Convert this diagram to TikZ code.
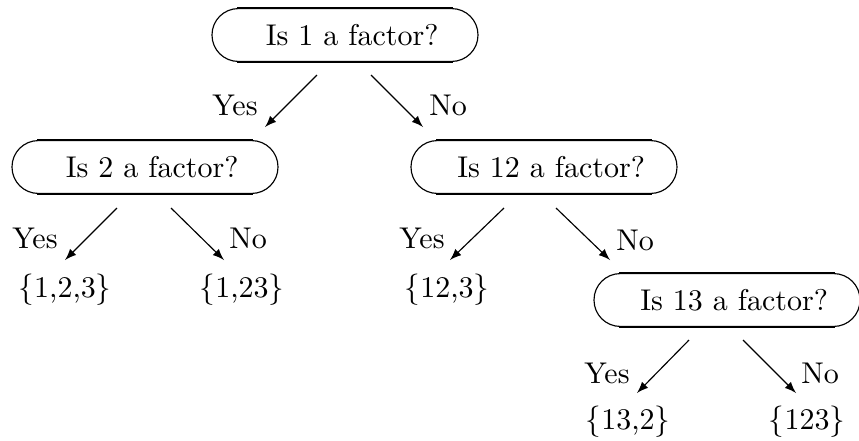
\documentclass[tikz,border=0pt]{standalone}
\usepackage{amsmath}
\usepackage{amssymb}
\usetikzlibrary{positioning}

\tikzset{
  ask/.style={draw, line width=.4pt, rounded corners=9.2pt,
    minimum width=93.1pt, minimum height=18.5pt,
    execute at begin node=\hspace{5pt}},
  rim/.style={line width=1pt}
}

\begin{document}
\begin{tikzpicture}[x=.35pt,y=-.35pt,>=latex,font=\fontsize{10.5}{12}\selectfont]
  \useasboundingbox (0,0) rectangle (859,440);
  \node[ask] (f1) at (345,35) {Is 1 a factor?};
  \node[ask] (f2) at (145,167) {Is 2 a factor?};
  \node[ask] (f12) at (544,167) {Is 12 a factor?};
  \node[ask] (f13) at (727,300) {Is 13 a factor?};
  \foreach \q in {f1,f2,f12,f13} {
    \draw[rim] ([xshift=9.1pt]\q.north west) -- ([xshift=-9.1pt]\q.north east);
    \draw[rim] ([xshift=9.1pt]\q.south west) -- ([xshift=-9.1pt]\q.south east);
  }
  \node (s123) at (65,290) {$\{$1,2,3$\}$};
  \node (s1-23) at (242,290) {$\{$1,23$\}$};
  \node (s12-3) at (447,290) {$\{$12,3$\}$};
  \node (s13-2) at (628,422) {$\{$13,2$\}$};
  \node (s1-2-3) at (807,422) {$\{$123$\}$};
  \node (yes1) at (235,105) {Yes};
  \node (no1) at (448,105) {No};
  \node (yes2) at (35,238) {Yes};
  \node (no2) at (248,238) {No};
  \node (yes12) at (422,238) {Yes};
  \node (no12) at (635,240) {No};
  \node (yes13) at (607,373) {Yes};
  \node (no13) at (820,373) {No};
  \coordinate (a1) at (317,75);
  \coordinate (b1) at (265,127);
  \coordinate (c1) at (371,75);
  \coordinate (d1) at (423,127);
  \coordinate (a2) at (117,208);
  \coordinate (b2) at (65,260);
  \coordinate (c2) at (171,208);
  \coordinate (d2) at (224,260);
  \coordinate (a12) at (504,208);
  \coordinate (b12) at (450,260);
  \coordinate (c12) at (556,208);
  \coordinate (d12) at (610,260);
  \coordinate (a13) at (689,340);
  \coordinate (b13) at (637,393);
  \coordinate (c13) at (743,340);
  \coordinate (d13) at (796,393);
  \draw[->] (a1) -- (b1);
  \draw[->] (c1) -- (d1);
  \draw[->] (a2) -- (b2);
  \draw[->] (c2) -- (d2);
  \draw[->] (a12) -- (b12);
  \draw[->] (c12) -- (d12);
  \draw[->] (a13) -- (b13);
  \draw[->] (c13) -- (d13);
\end{tikzpicture}
\end{document}
